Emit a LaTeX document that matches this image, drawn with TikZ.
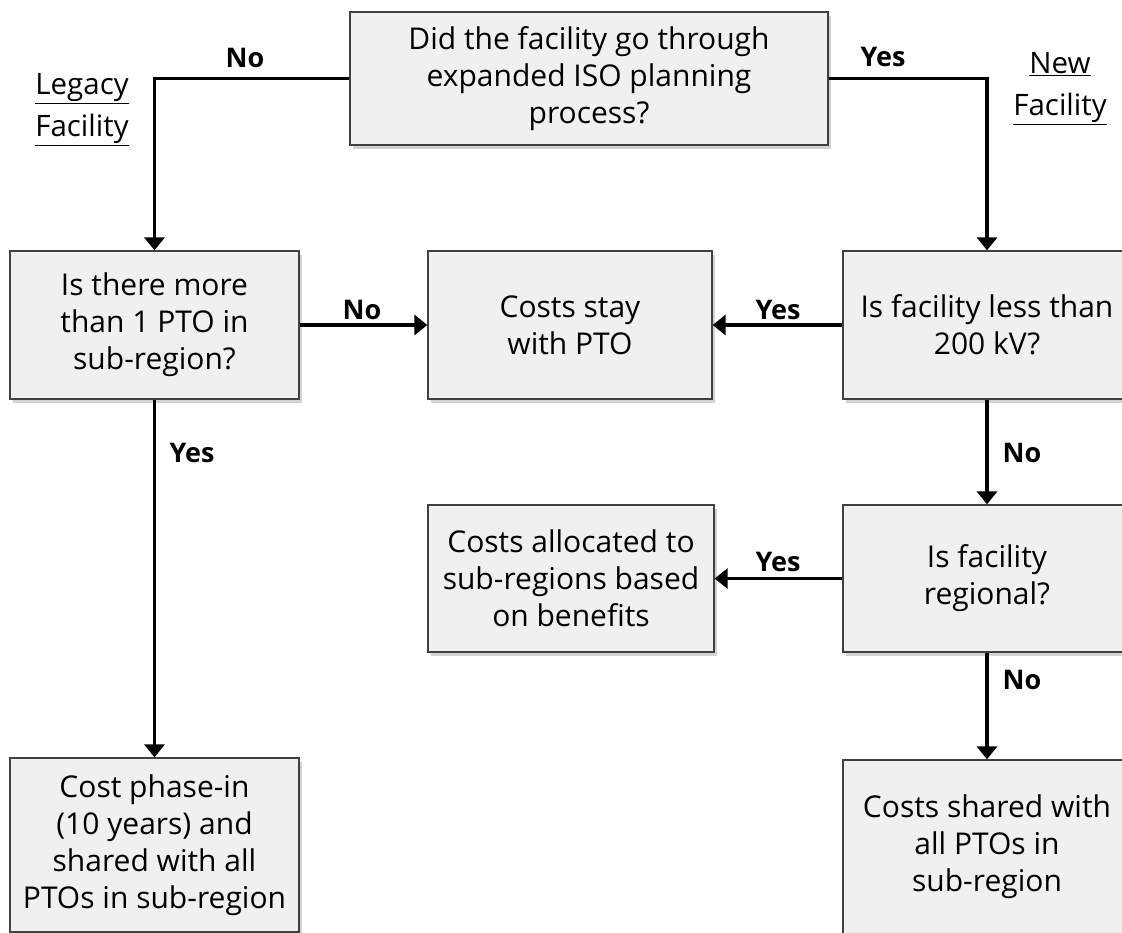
\documentclass[tikz,border=0pt]{standalone}
\usepackage{fontspec}
\setmainfont{Open Sans}
\usetikzlibrary{arrows.meta,shadows}

\tikzset{
    box/.style={draw=black!75, line width=1.3pt, fill=black!6, align=center,
        font=\fontsize{30}{37}\selectfont,
        drop shadow={shadow xshift=3pt, shadow yshift=-4pt, opacity=0.35}},
    flow/.style={line width=3.4pt, -{Triangle[width=20pt,length=13pt]}},
    ans/.style={font=\bfseries\fontsize{27}{32}\selectfont},
    head/.style={align=center, font=\fontsize{29.5}{42}\selectfont}
}

\begin{document}
\begin{tikzpicture}[x=1pt, y=-1pt]
    \useasboundingbox (0,0) rectangle (1122,932);
    \clip (0,0) rectangle (1122,932);

    % questions
    \node[box, minimum width=478, minimum height=133] (planned) at (589,78.5)
        {Did the facility go through\\expanded ISO planning\\process?};
    \node[box, minimum width=289, minimum height=148] (multi) at (154.5,325)
        {Is there more\\than 1 PTO in\\sub-region?};
    \node[box, minimum width=288, minimum height=148] (volt) at (987,325)
        {Is facility less than\\200 kV?};
    \node[box, minimum width=288, minimum height=147] (regional) at (987,578.5)
        {Is facility\\regional?};

    % outcomes
    \node[box, minimum width=284, minimum height=148] (stay) at (570,325)
        {Costs stay\\with PTO};
    \node[box, minimum width=286, minimum height=147] (alloc) at (571,578.5)
        {Costs allocated to\\sub-regions based\\on benefits};
    \node[box, minimum width=289, minimum height=174] (phase) at (154.5,845)
        {Cost phase-in\\(10 years) and\\shared with all\\PTOs in sub-region};
    \node[box, minimum width=288, minimum height=174] (shared) at (987,847)
        {Costs shared with\\all PTOs in\\sub-region};

    % headings
    \node[head] (legacy) at (82,110) {\underline{Legacy}\\\underline{Facility}};
    \node[head] (new) at (1060,89) {\underline{New}\\\underline{Facility}};

    % connectors
    \draw[flow] (planned.west) -| (multi.north);
    \draw[flow] (planned.east) -| (volt.north);
    \draw[flow] (multi.east) -- (stay.west);
    \draw[flow] (volt.west) -- (stay.east);
    \draw[flow] (volt.south) -- (regional.north);
    \draw[flow] (regional.west) -- (alloc.east);
    \draw[flow] (multi.south) -- (phase.north);
    \draw[flow] (regional.south) -- (shared.north);

    % answers
    \node[ans] (a1) at (245,58) {No};
    \node[ans] (a2) at (883,57) {Yes};
    \node[ans] (a3) at (362,310) {No};
    \node[ans] (a4) at (778,310) {Yes};
    \node[ans] (a5) at (192,453) {Yes};
    \node[ans] (a6) at (1022,453) {No};
    \node[ans] (a7) at (778,562) {Yes};
    \node[ans] (a8) at (1022,680) {No};
\end{tikzpicture}
\end{document}
